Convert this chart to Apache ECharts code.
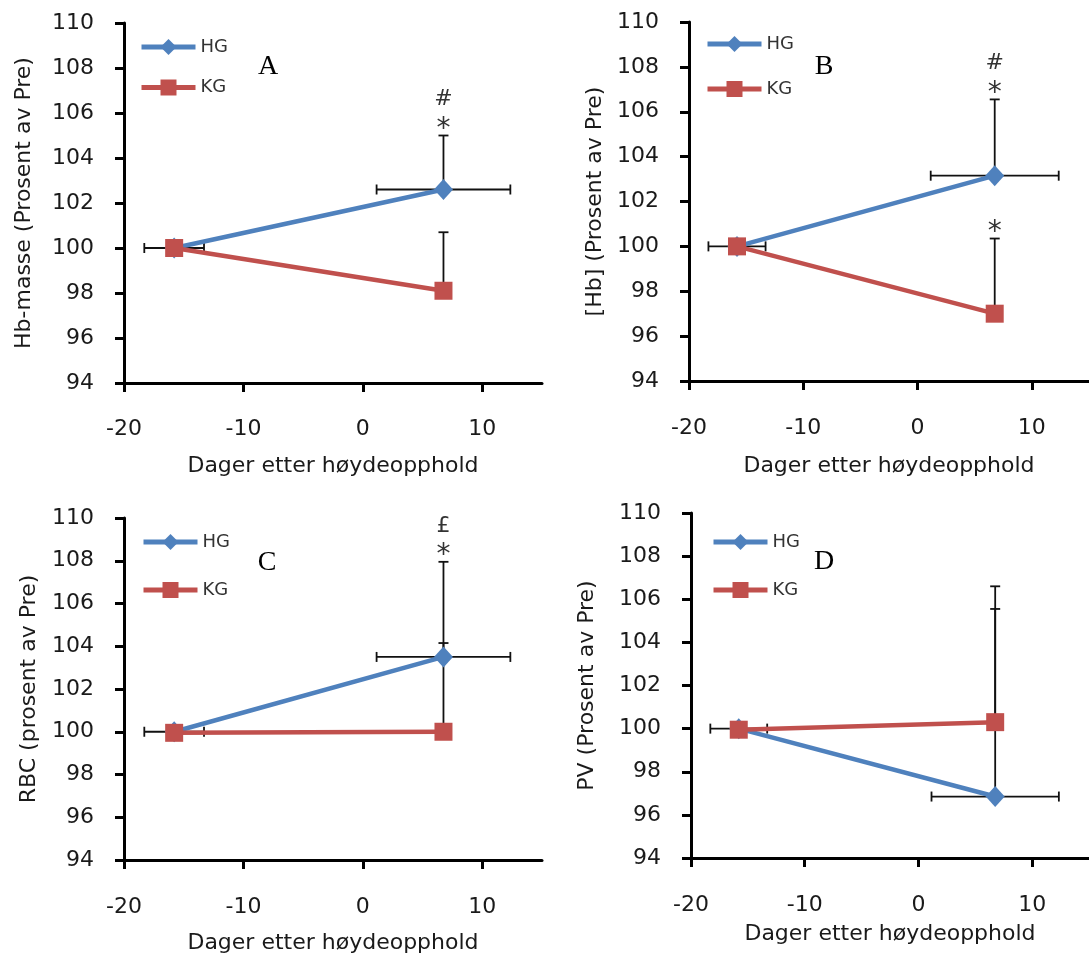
<!DOCTYPE html>
<html>
<head>
<meta charset="utf-8">
<script src="https://cdn.jsdelivr.net/npm/echarts@6/dist/echarts.min.js"></script>
<style>
	html, body { margin: 0; padding: 0; background: #fff; }
	#main { width: 1089px; height: 961px; }
</style>
</head>
<body>
<div id="main"></div>
<script>
// dager etter høydeopphold (pre, post) og SD for dagene
const days = [-15.8, 6.75];
const daysSD = [2.5, 5.6];

// A: Hb-masse
const hbMassHG = [100, 102.6];
const hbMassKG = [100, 98.1];
const hbMassHGSD = [0, 2.4];
const hbMassKGSD = [0, 2.6];
// B: [Hb]
const hbConcHG = [100, 103.15];
const hbConcKG = [100, 97.0];
const hbConcHGSD = [0, 3.4];
const hbConcKGSD = [0, 3.35];
// C: RBC
const rbcHG = [100, 103.5];
const rbcKG = [99.95, 100.0];
const rbcHGSD = [0, 4.45];
const rbcKGSD = [0, 4.15];
// D: PV
const pvHG = [100, 96.85];
const pvKG = [99.95, 100.3];
const pvHGSD = [0, 8.7];
const pvKGSD = [0, 6.3];

// signifikans: [gruppe, punkt, tegn nedenfra og opp]
const hbMassMarks = [['HG', 1, ['*', '#']]];
const hbConcMarks = [['HG', 1, ['*', '#']], ['KG', 1, ['*']]];
const rbcMarks = [['HG', 1, ['*', '£']]];
const pvMarks = [];

const xTicks = [-20, -10, 0, 10];
const xTitle = 'Dager etter høydeopphold';

const panels = [
	{ letter: 'A', yName: 'Hb-masse (Prosent av Pre)', hg: hbMassHG, kg: hbMassKG, hgSD: hbMassHGSD, kgSD: hbMassKGSD, marks: hbMassMarks },
	{ letter: 'B', yName: '[Hb] (Prosent av Pre)', hg: hbConcHG, kg: hbConcKG, hgSD: hbConcHGSD, kgSD: hbConcKGSD, marks: hbConcMarks },
	{ letter: 'C', yName: 'RBC (prosent av Pre)', hg: rbcHG, kg: rbcKG, hgSD: rbcHGSD, kgSD: rbcKGSD, marks: rbcMarks },
	{ letter: 'D', yName: 'PV (Prosent av Pre)', hg: pvHG, kg: pvKG, hgSD: pvHGSD, kgSD: pvKGSD, marks: pvMarks }
];

// layout per panel
const layout = [
	{ grid: { left: 124, top: 23, width: 418, height: 360 }, yGap: 89, xGap: 72, xMargin: 35, legend: { left: 139, top: 38, gap: 22.5 }, letter: [268, 67] },
	{ grid: { left: 689, top: 22, width: 405, height: 359 }, yGap: 83, xGap: 74, xMargin: 36, legend: { left: 705, top: 35, gap: 27 }, letter: [824, 67] },
	{ grid: { left: 124, top: 518, width: 418, height: 342 }, yGap: 84, xGap: 72, xMargin: 36, legend: { left: 141, top: 533, gap: 30 }, letter: [267, 563] },
	{ grid: { left: 691, top: 513, width: 403, height: 345 }, yGap: 93, xGap: 65, xMargin: 36, legend: { left: 711, top: 533, gap: 30 }, letter: [824, 562] }
];

const BLUE = '#4F81BD';
const RED = '#C0504D';
const FONT = 'DejaVu Sans';
const TEXT = '#1a1a1a';

const myChart = echarts.init( document.getElementById( 'main' ), null, { renderer: 'canvas' } );

let grids = [], xAxes = [], yAxes = [], series = [], legends = [], graphics = [];

panels.forEach( ( p, i ) => {
	const L = layout[i];
	grids.push( L.grid );
	xAxes.push( {
		gridIndex: i, type: 'value', min: -20, max: 15, interval: 10,
		name: xTitle, nameLocation: 'middle', nameGap: L.xGap,
		nameTextStyle: { fontFamily: FONT, fontSize: 22, color: TEXT },
		axisLine: { show: true, onZero: false, lineStyle: { color: '#000', width: 3 } },
		axisTick: { show: true, length: 9, customValues: xTicks, lineStyle: { color: '#000', width: 3 } },
		axisLabel: { margin: L.xMargin, fontFamily: FONT, fontSize: 22, color: TEXT, customValues: xTicks },
		splitLine: { show: false }
	} );
	yAxes.push( {
		gridIndex: i, type: 'value', min: 94, max: 110, interval: 2,
		name: p.yName, nameLocation: 'middle', nameGap: L.yGap,
		nameTextStyle: { fontFamily: FONT, fontSize: 22, color: TEXT },
		axisLine: { show: true, onZero: false, lineStyle: { color: '#000', width: 3 } },
		axisTick: { show: true, length: 9, lineStyle: { color: '#000', width: 3 } },
		axisLabel: { margin: 30, fontFamily: FONT, fontSize: 22, color: TEXT },
		splitLine: { show: false }
	} );

	// feilstolper: [x, y, xSD, ySD]
	const errData = [];
	days.forEach( ( d, k ) => errData.push( [ d, p.hg[k], daysSD[k], p.hgSD[k] ] ) );
	days.forEach( ( d, k ) => errData.push( [ d, p.kg[k], 0, p.kgSD[k] ] ) );
	series.push( {
		type: 'custom', xAxisIndex: i, yAxisIndex: i, z: 1, silent: true,
		data: errData,
		encode: { x: 0, y: 1 },
		renderItem: function ( params, api ) {
			const x = api.value( 0 ), y = api.value( 1 ), xs = api.value( 2 ), ys = api.value( 3 );
			const c = api.coord( [ x, y ] );
			const children = [];
			const style = { stroke: '#111', lineWidth: 1.8 };
			const cap = 5;
			if ( ys > 0 ) {
				const t = api.coord( [ x, y + ys ] );
				children.push( { type: 'line', shape: { x1: c[0], y1: c[1], x2: t[0], y2: t[1] }, style } );
				children.push( { type: 'line', shape: { x1: t[0] - cap, y1: t[1], x2: t[0] + cap, y2: t[1] }, style } );
			}
			if ( xs > 0 ) {
				const l = api.coord( [ x - xs, y ] ), r = api.coord( [ x + xs, y ] );
				children.push( { type: 'line', shape: { x1: l[0], y1: l[1], x2: r[0], y2: r[1] }, style } );
				children.push( { type: 'line', shape: { x1: l[0], y1: l[1] - cap, x2: l[0], y2: l[1] + cap }, style } );
				children.push( { type: 'line', shape: { x1: r[0], y1: r[1] - cap, x2: r[0], y2: r[1] + cap }, style } );
			}
			return { type: 'group', children };
		}
	} );

	series.push( {
		name: 'HG', type: 'line', xAxisIndex: i, yAxisIndex: i, z: 2,
		data: days.map( ( d, k ) => [ d, p.hg[k] ] ),
		symbol: 'diamond', symbolSize: [ 19, 21 ], showAllSymbol: true,
		lineStyle: { color: BLUE, width: 4.5 }, itemStyle: { color: BLUE },
		emphasis: { disabled: true }
	} );
	series.push( {
		name: 'KG', type: 'line', xAxisIndex: i, yAxisIndex: i, z: 3,
		data: days.map( ( d, k ) => [ d, p.kg[k] ] ),
		symbol: 'rect', symbolSize: 18, showAllSymbol: true,
		lineStyle: { color: RED, width: 4.5 }, itemStyle: { color: RED },
		emphasis: { disabled: true }
	} );

	// signifikanstegn over feilstolpen
	const notes = [];
	p.marks.forEach( m => {
		const vals = m[0] === 'HG' ? p.hg : p.kg;
		const sd = m[0] === 'HG' ? p.hgSD : p.kgSD;
		m[2].forEach( ( txt, lvl ) => notes.push( { value: [ days[m[1]], vals[m[1]] + sd[m[1]], lvl ], txt } ) );
	} );
	if ( notes.length ) {
		series.push( {
			type: 'custom', xAxisIndex: i, yAxisIndex: i, z: 4, silent: true,
			data: notes.map( n => n.value ),
			encode: { x: 0, y: 1 },
			renderItem: function ( params, api ) {
				const c = api.coord( [ api.value( 0 ), api.value( 1 ) ] );
				const lvl = api.value( 2 );
				const txt = notes[params.dataIndex].txt;
				const star = txt === '*';
				return {
					type: 'text',
					x: c[0], y: lvl === 0 ? c[1] - 20 : c[1] - 36,
					style: {
						text: txt, font: ( star ? '28px' : '22px' ) + ' "DejaVu Sans"', fill: '#333',
						align: 'center', verticalAlign: star ? 'top' : 'middle'
					}
				};
			}
		} );
	}

	legends.push( {
		data: [ 'HG', 'KG' ], orient: 'vertical', left: L.legend.left, top: L.legend.top,
		itemWidth: 54, itemHeight: 20, itemGap: L.legend.gap, padding: 0, selectedMode: false,
		lineStyle: { width: 5 },
		textStyle: { fontFamily: FONT, fontSize: 18, color: '#333' }
	} );

	graphics.push( {
		type: 'text', x: L.letter[0], y: L.letter[1],
		style: { text: p.letter, font: '28px "Liberation Serif"', fill: '#000', align: 'center', verticalAlign: 'middle' }
	} );
} );

myChart.setOption( {
	animation: false,
	grid: grids,
	xAxis: xAxes,
	yAxis: yAxes,
	legend: legends,
	graphic: graphics,
	series
} );
</script>
</body>
</html>
